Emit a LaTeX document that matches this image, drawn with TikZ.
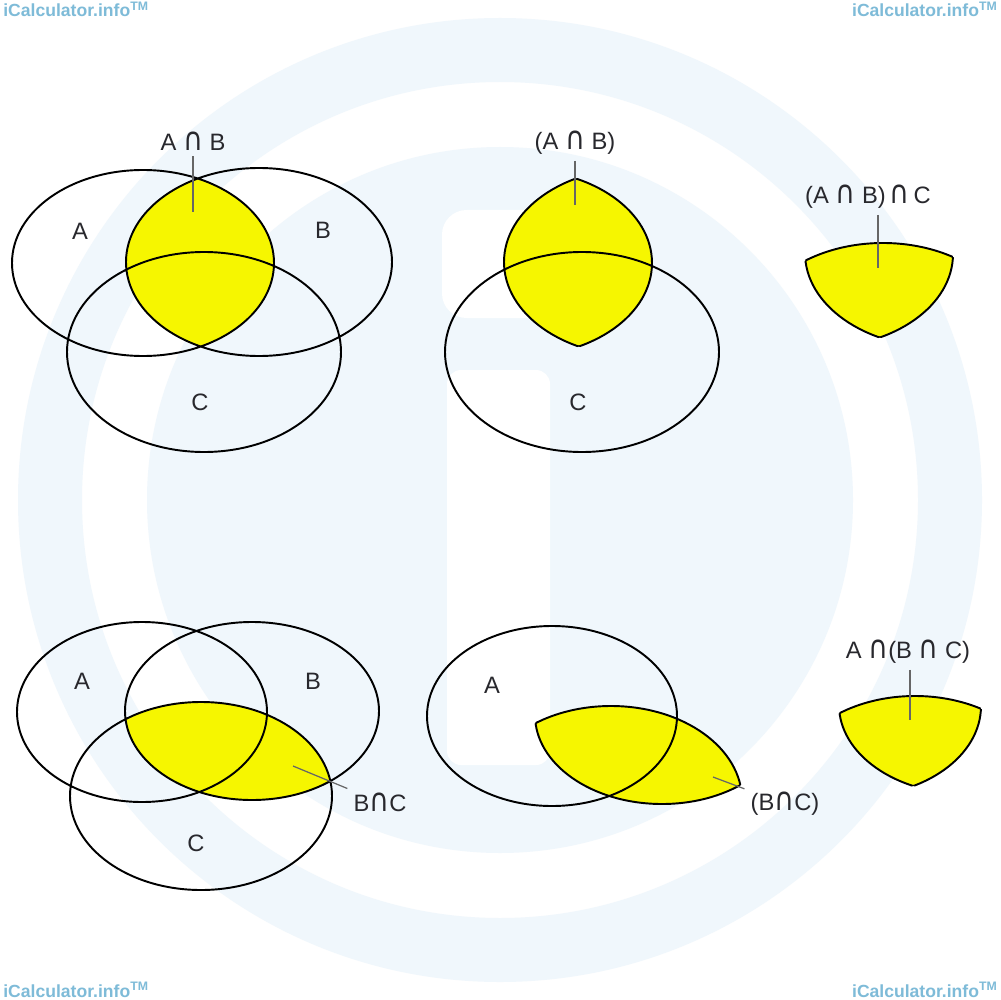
\documentclass[tikz,border=0pt]{standalone}
\usepackage{fontspec}
\setmainfont{Liberation Sans}
\newfontfamily\symfont{DejaVu Sans}
\newcommand{\isect}{\scalebox{1.15}[1.35]{\symfont ∩}}
\usetikzlibrary{positioning}
\definecolor{venny}{RGB}{246,246,0}
\definecolor{wmark}{RGB}{240,247,252}
\definecolor{wtext}{RGB}{126,187,216}
\definecolor{lbl}{RGB}{40,40,45}
% the three sets, upper and lower row
\newcommand{\ellTA}{(143,263) ellipse (131 and 93)}
\newcommand{\ellTB}{(259,262) ellipse (133 and 94)}
\newcommand{\ellTC}{(204,352) ellipse (137 and 100)}
\newcommand{\ellBA}{(142,712) ellipse (125 and 90)}
\newcommand{\ellBB}{(252,711) ellipse (127 and 89)}
\newcommand{\ellBC}{(201,796) ellipse (131 and 94)}
\begin{document}
\begin{tikzpicture}[x=0.02cm, y=-0.02cm,
    every node/.style={font=\fontsize{13.5}{16}\selectfont, text=lbl},
    vennline/.style={draw=black, line width=1.1pt},
    leader/.style={draw=black!60, line width=0.7pt},
    wmtext/.style={font=\fontsize{10}{12}\selectfont\bfseries, text=wtext, inner sep=0pt}]
    \useasboundingbox (0,0) rectangle (1000,1000);
    \fill[white] (0,0) rectangle (1000,1000);
    % watermark
    \fill[wmark, even odd rule] (500,500) circle (482) (500,500) circle (418);
    \fill[wmark] (500,500) circle (353);
    \fill[white, rounded corners=14pt] (442,210) rectangle (553,318);
    \fill[white, rounded corners=8pt] (447,370) rectangle (550,765);
    \node[wmtext, anchor=base west] (wmtl) at (3,17) {iCalculator.info\textsuperscript{TM}};
    \node[wmtext, anchor=base east] (wmtr) at (998,17) {iCalculator.info\textsuperscript{TM}};
    \node[wmtext, anchor=base west] (wmbl) at (3,997) {iCalculator.info\textsuperscript{TM}};
    \node[wmtext, anchor=base east] (wmbr) at (998,997) {iCalculator.info\textsuperscript{TM}};

    % A n B
    \begin{scope}
        \clip \ellTA;
        \fill[venny] \ellTB;
    \end{scope}
    \draw[vennline] \ellTA \ellTB \ellTC;
    \node (tlA) at (80,231) {A};
    \node (tlB) at (323,230) {B};
    \node (tlC) at (200,402) {C};
    \node (tlAB) at (193,141) {A \isect\ B};
    \coordinate (tlABp) at (193,212);
    \draw[leader] (tlAB) -- (tlABp);

    % (A n B) with C
    \begin{scope}[shift={(378,0)}]
        \begin{scope}
            \clip \ellTA;
            \fill[venny] \ellTB;
            \draw[vennline] \ellTB;
        \end{scope}
        \begin{scope}
            \clip \ellTB;
            \draw[vennline] \ellTA;
        \end{scope}
        \draw[vennline] \ellTC;
    \end{scope}
    \node (tmC) at (578,402) {C};
    \node (tmAB) at (575,143) {(A \isect\ B)};
    \coordinate (tmABp) at (575,205);
    \draw[leader] (tmAB) -- (tmABp);

    % (A n B) n C
    \begin{scope}[shift={(679,-9)}]
        \begin{scope}
            \clip \ellTA; \clip \ellTB;
            \fill[venny] \ellTC;
            \draw[vennline] \ellTC;
        \end{scope}
        \begin{scope}
            \clip \ellTA; \clip \ellTC;
            \draw[vennline] \ellTB;
        \end{scope}
        \begin{scope}
            \clip \ellTB; \clip \ellTC;
            \draw[vennline] \ellTA;
        \end{scope}
    \end{scope}
    \node (trABC) at (868,197) {(A \isect\ B)\,\isect\,C};
    \coordinate (trABCp) at (878,268);
    \draw[leader] (trABC.south -| trABCp) -- (trABCp);

    % B n C
    \begin{scope}
        \clip \ellBB;
        \fill[venny] \ellBC;
    \end{scope}
    \draw[vennline] \ellBA \ellBB \ellBC;
    \node (blA) at (82,681) {A};
    \node (blB) at (313,681) {B};
    \node (blC) at (196,843) {C};
    \node (blBC) at (380,802) {B\isect C};
    \coordinate (blBCp) at (293,766);
    \draw[leader] (blBCp) -- (blBC);

    % A with (B n C)
    \begin{scope}[shift={(410,4)}]
        \begin{scope}
            \clip \ellBB;
            \fill[venny] \ellBC;
            \draw[vennline] \ellBC;
        \end{scope}
        \begin{scope}
            \clip \ellBC;
            \draw[vennline] \ellBB;
        \end{scope}
        \draw[vennline] \ellBA;
    \end{scope}
    \node (bmA) at (492,685) {A};
    \node (bmBC) at (785,804) {(B\isect C)};
    \coordinate (bmBCp) at (713,777);
    \draw[leader] (bmBCp) -- (bmBC);

    % A n (B n C)
    \begin{scope}[shift={(714,-6)}]
        \begin{scope}
            \clip \ellBA; \clip \ellBB;
            \fill[venny] \ellBC;
            \draw[vennline] \ellBC;
        \end{scope}
        \begin{scope}
            \clip \ellBA; \clip \ellBC;
            \draw[vennline] \ellBB;
        \end{scope}
        \begin{scope}
            \clip \ellBB; \clip \ellBC;
            \draw[vennline] \ellBA;
        \end{scope}
    \end{scope}
    \node (brABC) at (908,652) {A \isect(B \isect\ C)};
    \coordinate (brABCp) at (910,720);
    \draw[leader] (brABC.south -| brABCp) -- (brABCp);
\end{tikzpicture}
\end{document}
